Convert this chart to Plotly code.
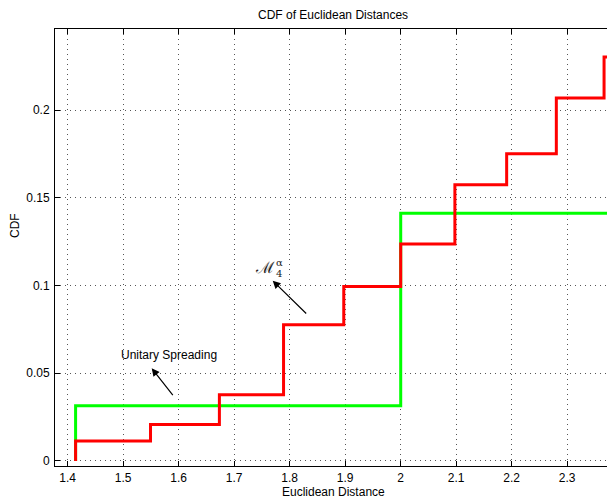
import plotly.graph_objects as go

# ---- data ----
m4_x = [1.4142, 1.4142, 1.5492, 1.6733, 1.7889, 1.8974, 2.0, 2.0976, 2.1909, 2.2804, 2.3664, 2.45]
m4_y = [0.0, 0.0113, 0.0208, 0.0377, 0.0777, 0.0994, 0.1237, 0.1575, 0.1752, 0.2069, 0.2303, 0.2303]

us_x = [1.4142, 1.4142, 2.0, 2.45]
us_y = [0.0, 0.0314, 0.1413, 0.1413]

x_ticks = [1.4, 1.5, 1.6, 1.7, 1.8, 1.9, 2.0, 2.1, 2.2, 2.3]
x_tick_labels = ["1.4", "1.5", "1.6", "1.7", "1.8", "1.9", "2", "2.1", "2.2", "2.3"]
y_ticks = [0, 0.05, 0.1, 0.15, 0.2]
y_tick_labels = ["0", "0.05", "0.1", "0.15", "0.2"]

W, H = 607, 500
# plot area in reference pixels: left 55, top 29, bottom 466, right edge at 607
L, T = 55, 29
B = H - 466
R = 0
XR = [1.3771, 2.3717]
YR = [-0.0029, 0.2463]
PW = W - L - R
PH = H - T - B

def px2x(px):
    return XR[0] + (px - L) / PW * (XR[1] - XR[0])

def py2y(py):
    return YR[0] + (H - B - py) / PH * (YR[1] - YR[0])

def ppx(px):
    return (px - L) / PW

def ppy(py):
    return (H - B - py) / PH

FONT = "Liberation Sans, Arial, Helvetica, sans-serif"

fig = go.Figure()
fig.add_trace(go.Scatter(x=us_x, y=us_y, mode="lines", line=dict(color="#00ff00", width=3, shape="hv"),
                         name="Unitary Spreading", showlegend=False))
fig.add_trace(go.Scatter(x=m4_x, y=m4_y, mode="lines", line=dict(color="#ff0000", width=3, shape="hv"),
                         name="M4", showlegend=False))

axis_common = dict(
    showline=True, linecolor="black", linewidth=1,
    ticks="inside", ticklen=5, tickcolor="black", tickwidth=1,
    showgrid=True, gridcolor="#555555", gridwidth=1, griddash="1px,4px",
    zeroline=False, tickfont=dict(family=FONT, size=12, color="black"),
)

fig.update_xaxes(range=XR, tickvals=x_ticks, ticktext=x_tick_labels, mirror="ticks",
                 ticklabelstandoff=1, **axis_common)
fig.update_yaxes(range=YR, tickvals=y_ticks, ticktext=y_tick_labels, mirror=False,
                 ticklabelstandoff=2, **axis_common)

anns = []
txt = dict(family=FONT, size=12, color="black")
anns.append(dict(text="CDF of Euclidean Distances", xref="paper", yref="paper",
                 x=ppx(333), y=ppy(15), showarrow=False, font=txt,
                 xanchor="center", yanchor="middle"))
anns.append(dict(text="Euclidean Distance", xref="paper", yref="paper",
                 x=ppx(333), y=ppy(492), showarrow=False, font=txt,
                 xanchor="center", yanchor="middle"))
anns.append(dict(text="CDF", xref="paper", yref="paper", textangle=-90,
                 x=ppx(15), y=ppy(226), showarrow=False, font=txt,
                 xanchor="center", yanchor="middle"))
anns.append(dict(text="Unitary Spreading", x=px2x(169), y=py2y(355), showarrow=False,
                 font=txt, xanchor="center", yanchor="middle"))
anns.append(dict(text="", x=px2x(151.7), y=py2y(368.3), ax=px2x(174), ay=py2y(396.7),
                 axref="x", ayref="y", showarrow=True, arrowhead=2, arrowsize=1.3,
                 arrowwidth=1.2, arrowcolor="black"))
math = dict(family="DejaVu Serif, serif", color="#222222")
anns.append(dict(text="ℳ", x=px2x(265), y=py2y(267), showarrow=False,
                 font=dict(size=16, **math), xanchor="center", yanchor="middle"))
anns.append(dict(text="α", x=px2x(279.5), y=py2y(262), showarrow=False,
                 font=dict(size=10, **math), xanchor="center", yanchor="middle"))
anns.append(dict(text="4", x=px2x(279), y=py2y(273), showarrow=False,
                 font=dict(size=10, **math), xanchor="center", yanchor="middle"))
anns.append(dict(text="", x=px2x(272.7), y=py2y(280.7), ax=px2x(307.7), ay=py2y(315),
                 axref="x", ayref="y", showarrow=True, arrowhead=2, arrowsize=1.3,
                 arrowwidth=1.2, arrowcolor="black"))

fig.update_layout(
    width=W, height=H,
    margin=dict(l=L, r=R, t=T, b=B),
    paper_bgcolor="white", plot_bgcolor="white",
    annotations=anns, showlegend=False,
    font=dict(family=FONT, size=12, color="black"),
)

fig.write_html(
    "out.html",
    config={"displayModeBar": False},
    post_script="document.body.style.margin='0';document.body.style.overflow='hidden';",
)
